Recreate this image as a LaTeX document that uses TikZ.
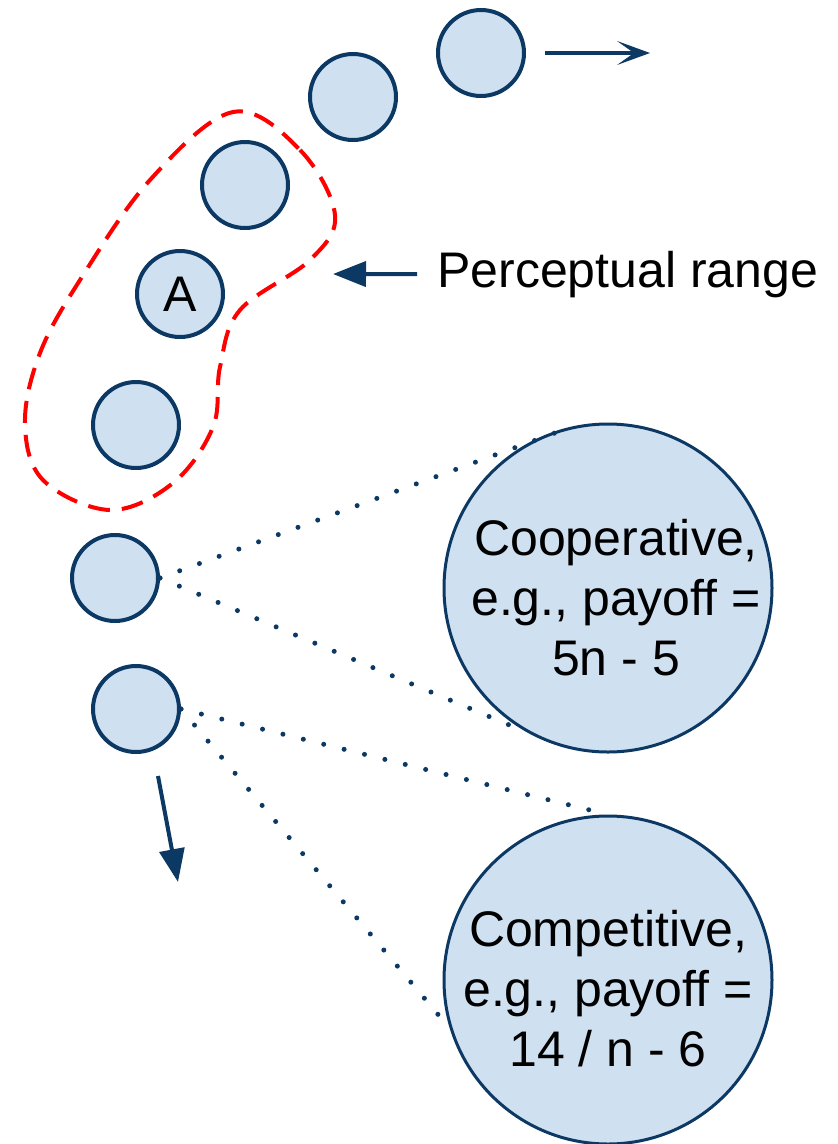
\documentclass[tikz,border=0pt]{standalone}
\usepackage{fontspec}
\setmainfont{Liberation Sans}
\usetikzlibrary{arrows.meta}
\definecolor{agentfill}{RGB}{207,224,241}
\definecolor{agentline}{RGB}{12,56,100}
\definecolor{rangered}{RGB}{255,0,0}

\begin{document}
\begin{tikzpicture}[x=1pt, y=-1pt,
    agent/.style={circle, draw=agentline, fill=agentfill, line width=4pt, minimum size=86pt, inner sep=0pt},
    payoff/.style={circle, draw=agentline, fill=agentfill, line width=3pt, minimum size=328pt, inner sep=0pt},
    bigfont/.style={font=\fontsize{50pt}{60pt}\selectfont},
    link/.style={draw=agentline, line width=5pt, line cap=round, dash pattern=on 0pt off 21pt},
    move/.style={draw=agentline, line width=4pt, -{Triangle[length=33pt, width=25pt]}}]
    \useasboundingbox (0,0) rectangle (838,1144);
    % Perceptual range of A
    \draw[rangered, line width=4pt, dash pattern=on 22pt off 12pt]
        plot[smooth cycle, tension=0.6] coordinates {(233,112) (300,150) (335,215) (310,260) (240,310) (220,367) (213,427) (173,483) (110,510) (43,480) (25,423) (40,353) (80,280) (150,180)};
    % Agents along the path
    \foreach \name/\x/\y in {c1/481/53, c2/353/97, c3/245/185, c5/136/425, c6/115/578, c7/136/709} {
        \node[agent] (\name) at (\x,\y) {};
    }
    \node[agent, bigfont] (a) at (180,294) {A};
    % Payoff circles
    \node[payoff] (coop) at (608,588) {};
    \node[bigfont, align=center, inner sep=0pt] (cooptext) at ([xshift=8pt, yshift=-10pt]coop.center) {Cooperative,\\e.g., payoff =\\5n - 5};
    \node[payoff] (comp) at (608,980) {};
    \node[bigfont, align=center, inner sep=0pt] (comptext) at ([yshift=-9pt]comp.center) {Competitive,\\e.g., payoff =\\14 / n - 6};
    \draw[link] (c6.east) -- (coop.102);
    \draw[link] (c6.east) -- (coop.241);
    \draw[link] (c7.east) -- (comp.north);
    \draw[link] (c7.east) -- (comp.197);
    % Moving directions
    \coordinate (leadtip) at (650,53);
    \draw[move, -{Stealth[length=33pt, width=24pt, inset=17pt, line width=1pt]}, shorten <=19pt] (c1.east) -- (leadtip);
    \coordinate (dropstart) at (158,776);
    \coordinate (droptip) at (178,882);
    \draw[move] (dropstart) -- (droptip);
    % Label
    \node[bigfont, anchor=base west, inner sep=0pt] (percep) at (437,287) {Perceptual range};
    \coordinate (rangetip) at (333,274);
    \draw[move, shorten <=20pt] (percep.west) -- (rangetip);
\end{tikzpicture}
\end{document}
